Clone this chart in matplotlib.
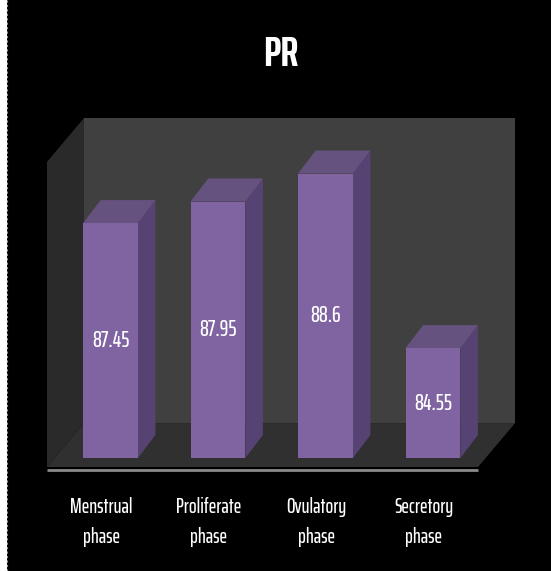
import numpy as np
import matplotlib.pyplot as plt
from matplotlib.patches import Polygon, Rectangle

categories = ['Menstrual\nphase', 'Proliferate\nphase', 'Ovulatory\nphase', 'Secretory\nphase']
values = [87.45, 87.95, 88.6, 84.55]
title = 'PR'

# hidden value axis runs from 82 upward
base = 82.0
wall_top = 89.89

bar_w = 0.51
dx, dy = 0.163, 0.534          # bar depth offset (x units, value units)
wdx, wdy = 0.345, 1.02         # depth offset of the walls/floor

front_col = '#8064a2'
side_col = '#574373'
top_col = '#66527f'

# narrow font, falls back if not there
fnt = ['Saira ExtraCondensed', 'Sofia Sans Extra Condensed', 'Liberation Sans Narrow', 'DejaVu Sans']

fig = plt.figure(figsize=(5.51, 5.71), dpi=100, facecolor='black')
ax = fig.add_axes([0, 0, 1, 1])
ax.set_facecolor('black')
ax.set_xlim(-1.028, 4.098)
ax.set_ylim(79.378, 92.626)
ax.axis('off')

x = np.arange(len(values))
fl = base - 0.21                 # floor front level
left, right = -0.591, 3.419      # floor front corners

# side wall, back wall, floor
ax.add_patch(Polygon([(left, fl), (left, wall_top - wdy), (left + wdx, wall_top),
                      (left + wdx, fl + wdy)], closed=True, fc='#2a2a2a', ec='none'))
ax.add_patch(Polygon([(left + wdx, fl + wdy), (left + wdx, wall_top),
                      (right + wdx, wall_top), (right + wdx, fl + wdy)], closed=True,
                     fc='#404040', ec='none'))
ax.add_patch(Polygon([(left, fl), (right, fl), (right + wdx, fl + wdy), (left + wdx, fl + wdy)],
                     closed=True, fc='#303030', ec='none'))
ax.plot([left, right], [fl - 0.08, fl - 0.08], color='#8a8a8a', lw=2, solid_capstyle='butt')

# bars: side, top, then front
for xi, v in zip(x, values):
    r = xi + bar_w / 2
    l = xi - bar_w / 2
    ax.add_patch(Polygon([(r, base), (r + dx, base + dy), (r + dx, v + dy), (r, v)],
                         closed=True, fc=side_col, ec='none'))
    ax.add_patch(Polygon([(l, v), (r, v), (r + dx, v + dy), (l + dx, v + dy)],
                         closed=True, fc=top_col, ec='none'))
ax.bar(x, np.array(values) - base, bottom=base, width=bar_w, color=front_col, edgecolor='none')

for xi, v in zip(x, values):
    ax.text(xi, (v + base) / 2, f'{v:g}', color='white', fontsize=16, fontweight='medium',
            ha='center', va='center', family=fnt)

for xi, c in zip(x, categories):
    ax.text(xi - 0.088, 80.52, c, color='white', fontsize=14.5, fontweight='medium',
            ha='center', va='center', linespacing=1.6, family=fnt)

fig.text(0.51, 0.905, title, color='white', fontsize=31, fontweight='bold',
         ha='center', va='center', family=fnt)

# white strip on the left edge of the picture
fig.patches.append(Rectangle((0, 0), 7 / 551, 1, transform=fig.transFigure,
                             fc='white', ec='none'))
fig.lines.append(plt.Line2D([7 / 551, 7 / 551], [0, 1], transform=fig.transFigure,
                            color='#999999', lw=0.8, ls=(0, (2, 2))))

fig.savefig('out.png', dpi=100, facecolor='black')
